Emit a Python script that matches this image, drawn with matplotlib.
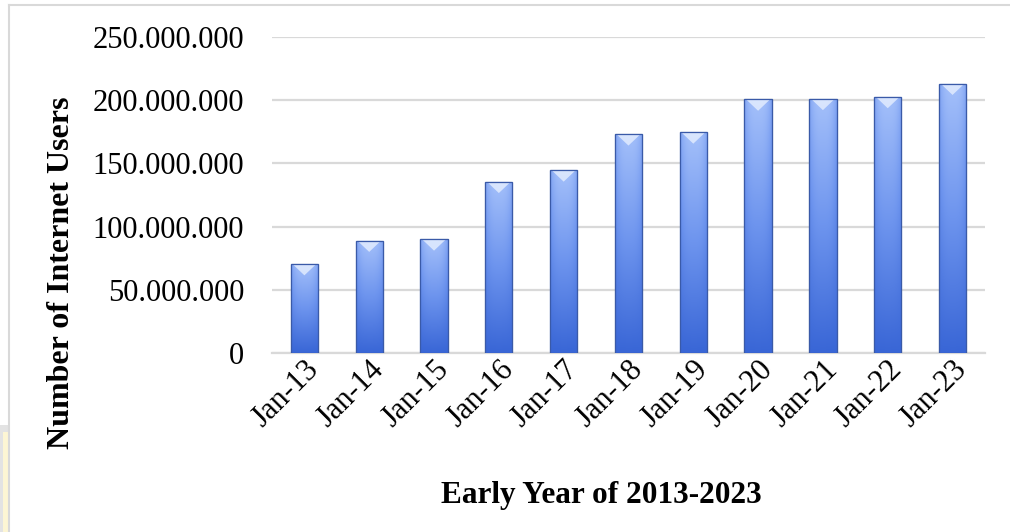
import numpy as np
import matplotlib
matplotlib.use("Agg")
import matplotlib.pyplot as plt
from matplotlib.patches import Rectangle, Polygon
from matplotlib.lines import Line2D
from matplotlib.ticker import FuncFormatter
from matplotlib.colors import LinearSegmentedColormap

months = ["Jan-13", "Jan-14", "Jan-15", "Jan-16", "Jan-17", "Jan-18",
          "Jan-19", "Jan-20", "Jan-21", "Jan-22", "Jan-23"]
users = [70_500_000, 89_000_000, 90_000_000, 135_500_000, 144_500_000,
         173_000_000, 174_500_000, 200_500_000, 201_000_000, 202_500_000,
         213_000_000]
y_ticks = [0, 50_000_000, 100_000_000, 150_000_000, 200_000_000, 250_000_000]

plt.rcParams["font.family"] = ["Liberation Serif", "DejaVu Serif"]

fig = plt.figure(figsize=(10.10, 5.32), dpi=100)
ax = fig.add_axes([0.2693, 0.3361, 0.7059, 0.5949])

x = np.arange(len(months))
bars = ax.bar(x, users, width=0.42, color="#6f93e8", edgecolor="#2f4f9a",
              linewidth=0.8, zorder=3)

# gradient fill: light at top, deeper blue at bottom, darker at the sides
cmap = LinearSegmentedColormap.from_list("blu", ["#3966d6", "#6d94ee", "#a4c0fa"])
vert = np.linspace(0, 1, 256)[:, None]
horiz = 1 - 0.35 * np.abs(np.linspace(-1, 1, 64))[None, :] ** 3
grad = vert * horiz
for b in bars:
    x0, y0 = b.get_x(), b.get_y()
    w, h = b.get_width(), b.get_height()
    im = ax.imshow(grad, cmap=cmap, vmin=0, vmax=1, origin="lower",
                   extent=[x0, x0 + w, y0, y0 + h], aspect="auto",
                   interpolation="bilinear", zorder=3.5)
    im.set_clip_path(b)
    cap = 9_000_000
    tri = Polygon([[x0 + w * 0.06, y0 + h], [x0 + w * 0.94, y0 + h],
                   [x0 + w * 0.5, y0 + h - cap]], closed=True,
                  facecolor="#e2ecfe", edgecolor="none", alpha=0.85, zorder=4)
    ax.add_patch(tri)
    ax.add_patch(Rectangle((x0, y0), w, h, fill=False, edgecolor="#3a5aa8",
                           linewidth=0.9, zorder=4.5))

ax.set_xlim(-0.5, len(months) - 0.5)
ax.set_ylim(0, 250_000_000)
ax.set_yticks(y_ticks)
ax.yaxis.set_major_formatter(FuncFormatter(lambda v, p: "0" if v == 0 else f"{int(v):,}".replace(",", ".")))
ax.set_xticks(x)
ax.set_xticklabels(months, rotation=45, ha="right", va="top", rotation_mode="anchor")
ax.tick_params(axis="both", length=0, labelsize=22)
ax.tick_params(axis="y", pad=20)
ax.tick_params(axis="x", pad=1)

ax.grid(axis="y", color="#d9d9d9", linewidth=1.6, zorder=0)
ax.set_axisbelow(True)
for s in ["top", "right", "left"]:
    ax.spines[s].set_visible(False)
ax.spines["bottom"].set_color("#d9d9d9")
ax.spines["bottom"].set_linewidth(1.6)

fig.text(0.061, 0.487, "Number of Internet Users", rotation=90, ha="center",
         va="center", fontsize=23, fontweight="bold")
fig.text(0.595, 0.069, "Early Year of 2013-2023", ha="center", va="center",
         fontsize=22.5, fontweight="bold")

# light frame and the screenshot edge at the bottom left
W, H = 1010, 532
fig.add_artist(Line2D([9 / W, 1], [1 - 5 / H, 1 - 5 / H], color="#d9d9d9", linewidth=1.5))
fig.add_artist(Line2D([9 / W, 9 / W], [0, 1 - 5 / H], color="#d9d9d9", linewidth=1.5))
fig.add_artist(Rectangle((0, 0), 8 / W, 107 / H, facecolor="#e3e3e3", edgecolor="none"))
fig.add_artist(Rectangle((3 / W, 0), 5 / W, 100 / H, facecolor="#fdf6d4", edgecolor="none"))

fig.savefig("out.png", dpi=100)
